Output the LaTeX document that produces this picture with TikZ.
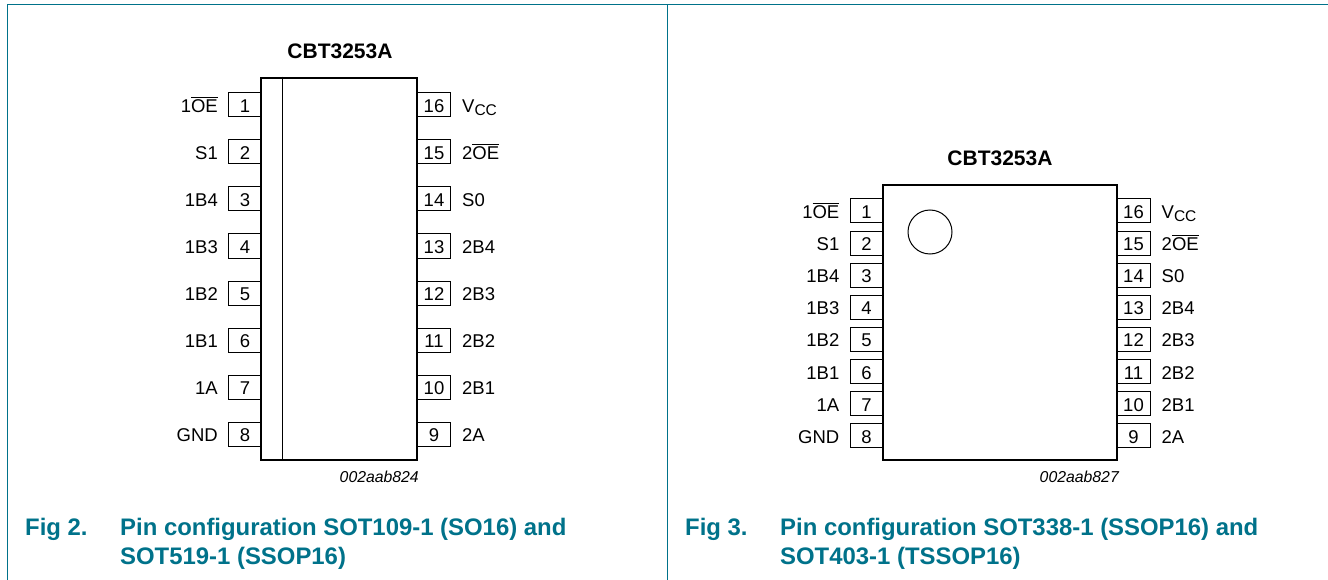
\documentclass[tikz,border=0pt]{standalone}
\usepackage{fontspec}
\setmainfont{Liberation Sans}
\usepackage{tikz}
\usetikzlibrary{positioning}
\definecolor{nxpteal}{RGB}{0,114,138}
\newcommand{\OEbar}{\leavevmode\rlap{\rule[14.4pt]{26.8pt}{1pt}}OE}
\newcommand{\Vcc}{V\raisebox{-3.3pt}{\fontsize{15.5}{18}\selectfont CC}}
\tikzstyle{chip} = [draw, line width=2.8pt, fill=white, inner sep=0pt]
\tikzstyle{pinbox} = [draw, line width=1pt, inner sep=0pt, minimum width=33pt, minimum height=24pt, text height=15pt, text depth=0pt, font=\fontsize{18.5}{20}\selectfont]
\tikzstyle{lbl} = [inner sep=0pt, text height=15pt, text depth=0pt, font=\fontsize{18.5}{20}\selectfont]
\tikzstyle{partname} = [inner sep=0pt, font=\fontsize{21}{24}\bfseries\selectfont]
\tikzstyle{drawcode} = [inner sep=0pt, font=\fontsize{15.8}{18}\itshape\selectfont]
\tikzstyle{figcap} = [inner sep=0pt, anchor=north west, align=left, text=nxpteal, font=\fontsize{23.9}{29.3}\bfseries\selectfont]
\begin{document}
\begin{tikzpicture}[x=1pt, y=-1pt]
\useasboundingbox (0,0) rectangle (1328,580);
% frame
\coordinate (TL) at (7.5,4.5);
\coordinate (TR) at (1328,4.5);
\coordinate (BL) at (7.5,580);
\coordinate (TM) at (667.5,4.5);
\coordinate (BM) at (667.5,580);
\draw[nxpteal, line width=1.6pt] (BL)--(TL)--(TR);
\draw[nxpteal, line width=1.6pt] (TM)--(BM);
% SO16 pins
\foreach \n/\t [count=\i from 0] in {1/1\OEbar,2/S1,3/1B4,4/1B3,5/1B2,6/1B1,7/1A,8/GND}
{
    \node(A\n)[pinbox] at (245,105+47*\i) {\n};
    \node(LA\n)[lbl, left=10pt of A\n] {\t};
}
\foreach \n/\t [count=\i from 0] in {16/\Vcc,15/2\OEbar,14/S0,13/2B4,12/2B3,11/2B2,10/2B1,9/2A}
{
    \node(A\n)[pinbox] at (434,105+47*\i) {\n};
    \node(LA\n)[lbl, right=11pt of A\n] {\t};
}
\node(chipA)[chip, minimum width=156pt, minimum height=382pt] at (339,269) {};
\draw[line width=1pt] (chipA.north west -| 282,0)--(chipA.south west -| 282,0);
\node(nameA)[partname, above=18pt of chipA, xshift=1pt] {CBT3253A};
\node(codeA)[drawcode, anchor=east] at (419,477) {002aab824};
\node(figA)[figcap] at (25,518) {Fig 2.};
\node(capA)[figcap] at (120,518) {Pin configuration SOT109-1 (SO16) and\\SOT519-1 (SSOP16)};
% SSOP16 pins
\foreach \n/\t [count=\i from 0] in {1/1\OEbar,2/S1,3/1B4,4/1B3,5/1B2,6/1B1,7/1A,8/GND}
{
    \node(B\n)[pinbox] at (866.5,211+32.1*\i) {\n};
    \node(LB\n)[lbl, left=10pt of B\n] {\t};
}
\foreach \n/\t [count=\i from 0] in {16/\Vcc,15/2\OEbar,14/S0,13/2B4,12/2B3,11/2B2,10/2B1,9/2A}
{
    \node(B\n)[pinbox] at (1133.5,211+32.1*\i) {\n};
    \node(LB\n)[lbl, right=11pt of B\n] {\t};
}
\node(chipB)[chip, minimum width=234pt, minimum height=275pt] at (1000,322.5) {};
\node(dot)[draw, circle, line width=1pt, minimum size=44pt, inner sep=0pt] at (930,232) {};
\node(nameB)[partname, above=18pt of chipB] {CBT3253A};
\node(codeB)[drawcode, anchor=east] at (1119,477) {002aab827};
\node(figB)[figcap] at (685,518) {Fig 3.};
\node(capB)[figcap] at (780,518) {Pin configuration SOT338-1 (SSOP16) and\\SOT403-1 (TSSOP16)};
\end{tikzpicture}
\end{document}
